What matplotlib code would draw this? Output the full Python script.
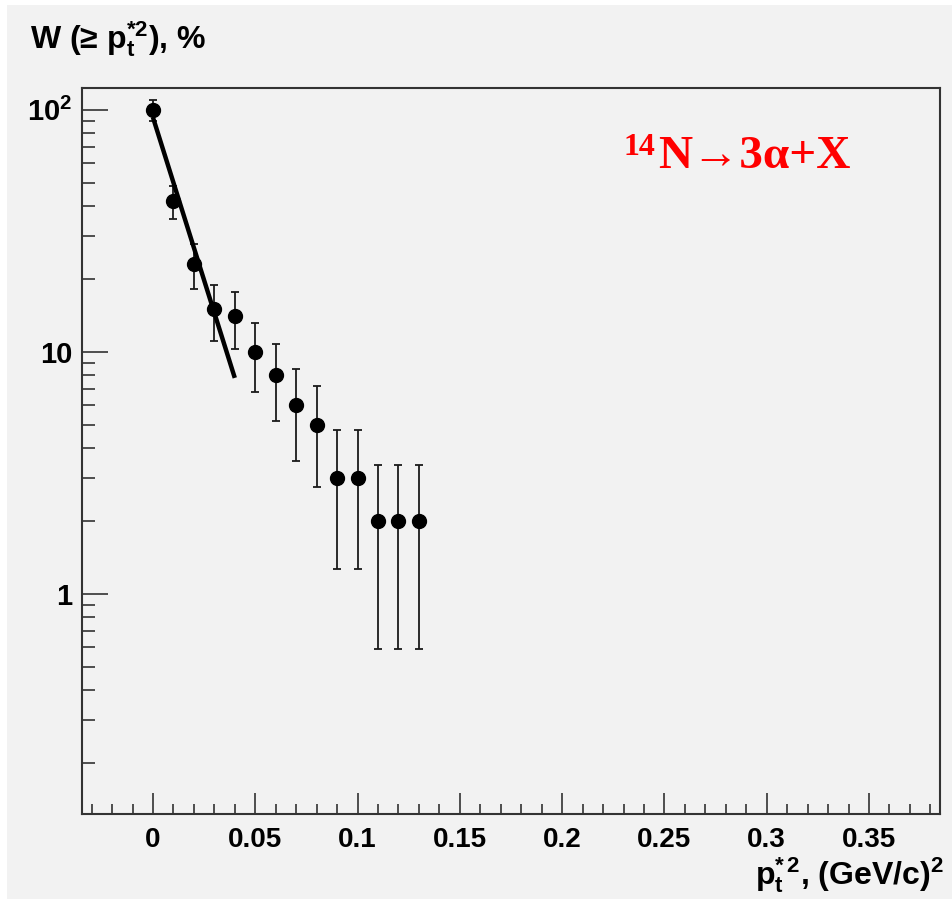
'''
plot.py

W(>= pt*^2) distribution, 14N -> 3 alpha + X.
'''

# ---------------------------------------------------------------------------- #

import matplotlib as mpl
mpl.use('Agg')
import matplotlib.pyplot as plt
from matplotlib.patches import Rectangle
from matplotlib.ticker import FixedLocator, LogLocator, MultipleLocator, NullFormatter
import numpy as np

mpl.rcParams['font.family']      = ['Liberation Sans', 'DejaVu Sans']
mpl.rcParams['font.weight']      = 'bold'
mpl.rcParams['mathtext.fontset'] = 'custom'
mpl.rcParams['mathtext.rm']      = 'Liberation Sans:bold'
mpl.rcParams['mathtext.it']      = 'Liberation Sans:bold'
mpl.rcParams['mathtext.bf']      = 'Liberation Sans:bold'
mpl.rcParams['mathtext.sf']      = 'Liberation Sans:bold'

# ---------------------------------------------------------------------------- #

pt2 = [0.0, 0.01, 0.02, 0.03, 0.04, 0.05, 0.06, 0.07, 0.08, 0.09, 0.10, 0.11, 0.12, 0.13]
W   = [100, 42, 23, 15, 14, 10, 8, 6, 5, 3, 3, 2, 2, 2]
dW  = [10, 6.5, 4.8, 3.9, 3.7, 3.2, 2.8, 2.45, 2.25, 1.73, 1.73, 1.41, 1.41, 1.41]

# straight-line fit (exponential) drawn over the first points
fit_x = [0.0, 0.04]
fit_y = [93, 7.8]

xticks      = [0, 0.05, 0.1, 0.15, 0.2, 0.25, 0.3, 0.35]
xtick_names = ['0', '0.05', '0.1', '0.15', '0.2', '0.25', '0.3', '0.35']
yticks      = [1, 10, 100]
ytick_names = ['1', '10', r'$10^{2}$']

bg = '#f2f2f2'
fg = '#333333'

# ---------------------------------------------------------------------------- #

fig = plt.figure(figsize=(9.52, 8.99), dpi=100, facecolor=bg)
# thin white strips along the top and left edges of the original scan
fig.patches.append(Rectangle((0, 1 - 5/899), 1, 5/899, transform=fig.transFigure,
                             facecolor='white', edgecolor='none'))
fig.patches.append(Rectangle((0, 0), 7/952, 1, transform=fig.transFigure,
                             facecolor='white', edgecolor='none'))

ax = fig.add_axes([0.0861, 0.0945, 0.9013, 0.8076], facecolor=bg)

ax.errorbar(pt2, W, yerr=dW, fmt='o', color='black', ecolor='#1a1a1a',
            elinewidth=1.3, capsize=3, capthick=1.3, markersize=10, zorder=3)
ax.plot(fit_x, fit_y, color='black', linewidth=3.2, solid_capstyle='butt', zorder=4)

ax.set_yscale('log')
ax.set_xlim(-0.0347, 0.3847)
ax.set_ylim(0.123, 123)

ax.set_xticks(xticks)
ax.set_xticklabels(xtick_names)
ax.xaxis.set_minor_locator(MultipleLocator(0.01))

ax.yaxis.set_major_locator(FixedLocator(yticks))
ax.set_yticklabels(ytick_names)
ax.yaxis.set_minor_locator(LogLocator(base=10, subs=np.arange(2, 10)))
ax.yaxis.set_minor_formatter(NullFormatter())

ax.tick_params(axis='x', which='major', direction='in', length=15, width=1.2,
               color=fg, labelsize=20, pad=9)
ax.tick_params(axis='x', which='minor', direction='in', length=7.5, width=1.2,
               color=fg)
ax.tick_params(axis='y', which='major', direction='in', length=19, width=1.2,
               color=fg, labelsize=21, pad=7)
ax.tick_params(axis='y', which='minor', direction='in', length=9.5, width=1.2,
               color=fg)

for s in ax.spines.values():
    s.set_color(fg)
    s.set_linewidth(1.5)

fig.text(0.031, 0.957, 'W (\u2265 p$_{t}^{*2}$), %', fontsize=23,
         ha='left', va='center')
fig.text(0.991, 0.016, 'p$_{t}^{*\\,2}$, (GeV/c)$^{2}$', fontsize=23,
         ha='right', va='baseline')

serif = ['Liberation Serif', 'DejaVu Serif']
ax.text(0.671, 0.890, 'N\u21923\u03b1+X', transform=ax.transAxes, color='red',
        fontsize=34, fontweight='bold', ha='left', va='baseline', family=serif)
ax.text(0.668, 0.938, '14', transform=ax.transAxes, color='red',
        fontsize=23, fontweight='bold', ha='right', va='top', family=serif)

fig.savefig('out.png', dpi=100, facecolor=bg)
